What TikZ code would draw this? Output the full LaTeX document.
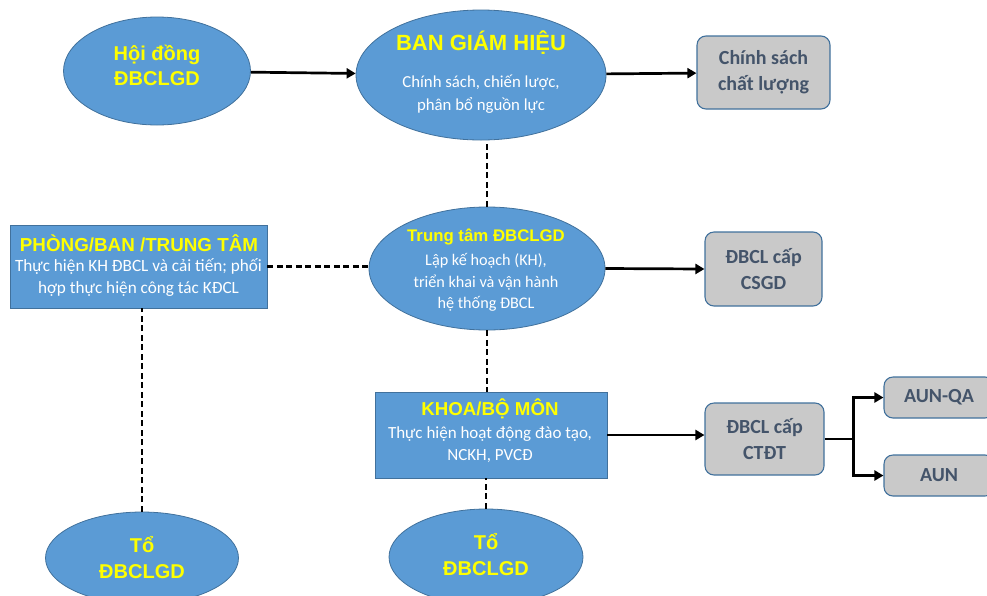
\documentclass[tikz,border=0pt]{standalone}
\usepackage{fontspec}
\setmainfont{Carlito}
\newfontfamily\arl{Liberation Sans}
\usetikzlibrary{shapes.geometric,arrows.meta,calc}
\definecolor{bfill}{HTML}{5B9BD5}
\definecolor{bedge}{HTML}{41719C}
\definecolor{gfill}{HTML}{C9C9C9}
\definecolor{gtext}{HTML}{44546A}
\definecolor{yel}{HTML}{FFFF00}
\begin{document}
\begin{tikzpicture}[x=1pt,y=-1pt,
  ell/.style={ellipse, draw=bedge, line width=0.8pt, fill=bfill, inner sep=0pt},
  rbox/.style={rectangle, draw=bedge, line width=0.8pt, fill=bfill, inner sep=0pt},
  gbox/.style={rectangle, rounded corners=9pt, draw=bedge, line width=1.1pt, fill=gfill, inner sep=0pt,
     font=\bfseries\fontsize{20}{26}\selectfont, text=gtext, align=center},
  ytitle/.style={font=\arl\bfseries\fontsize{20}{25.5}\selectfont, text=yel, align=center, inner sep=0pt},
  wtext/.style={font=\fontsize{16.8}{22.5}\selectfont, text=white, align=center, inner sep=0pt},
  arr/.style={line width=2.7pt, -{Triangle[length=9pt,width=10pt]}},
  dsh/.style={line width=2.3pt, dash pattern=on 6pt off 3.5pt}
]
\useasboundingbox (0,0) rectangle (987,595);
\clip (0,0) rectangle (987,595);

% shapes
\node[ell, minimum width=187pt, minimum height=108pt] (hd) at (157,71) {};
\node[ell, minimum width=250pt, minimum height=130pt] (bgh) at (481,75) {};
\node[gbox, minimum width=133pt, minimum height=73pt] (csl) at (763.5,72.5) {Chính sách\\chất lượng};
\node[rbox, minimum width=257pt, minimum height=83pt] (pb) at (138.5,266.5) {};
\node[ell, minimum width=236pt, minimum height=123pt] (tt) at (487,268.5) {};
\node[gbox, minimum width=117pt, minimum height=74pt] (csgd) at (763.5,269) {ĐBCL cấp\\CSGD};
\node[rbox, minimum width=232pt, minimum height=86pt] (kh) at (491,435) {};
\node[gbox, minimum width=119pt, minimum height=72pt] (ctdt) at (764.5,439) {ĐBCL cấp\\CTĐT};
\node[gbox, minimum width=110pt, minimum height=41pt] (aq) at (939,397.5) {AUN-QA};
\node[gbox, minimum width=110pt, minimum height=41pt] (aun) at (939,475.5) {AUN};
\node[ell, minimum width=193pt, minimum height=92pt] (t1) at (142,558) {};
\node[ell, minimum width=194pt, minimum height=96pt] (t2) at (486,557) {};

% texts
\node[ytitle] (hdt) at (157,65.5) {Hội đồng\\ĐBCLGD};
\node[ytitle, font=\arl\bfseries\fontsize{22}{26}\selectfont] (bght) at (481,43) {BAN GIÁM HIỆU};
\node[wtext, font=\fontsize{16.8}{23}\selectfont] (bghb) at (481,94.5) {Chính sách, chiến lược,\\phân bổ nguồn lực};
\node[ytitle, font=\arl\bfseries\fontsize{18.8}{22}\selectfont] (pbt) at (139,243) {PHÒNG/BAN /TRUNG TÂM};
\node[wtext, font=\fontsize{17.2}{21.5}\selectfont] (pbb) at (138.5,277.5) {Thực hiện KH ĐBCL và cải tiến; phối\\hợp thực hiện công tác KĐCL};
\node[ytitle, font=\arl\bfseries\fontsize{16.8}{22}\selectfont] (ttt) at (486,237) {Trung tâm ĐBCLGD};
\node[wtext, font=\fontsize{16.2}{21.5}\selectfont] (ttb) at (486,282.5) {Lập kế hoạch (KH),\\triển khai và vận hành\\hệ thống ĐBCL};
\node[ytitle, font=\arl\bfseries\fontsize{18.7}{22}\selectfont] (kht) at (490,409) {KHOA/BỘ MÔN};
\node[wtext, font=\fontsize{17}{21.5}\selectfont] (khb) at (490,444.5) {Thực hiện hoạt động đào tạo,\\NCKH, PVCĐ};
\node[ytitle, font=\arl\bfseries\fontsize{20}{26}\selectfont] (t1t) at (142,558) {Tổ\\ĐBCLGD};
\node[ytitle, font=\arl\bfseries\fontsize{20}{26}\selectfont] (t2t) at (486,555) {Tổ\\ĐBCLGD};

% connectors
\draw[arr] (hd) -- (bgh);
\draw[arr] (bgh) -- (csl);
\draw[dsh] (tt.north) -- (tt.north |- bgh.south);
\draw[dsh] (pb.east) -- (pb.east -| tt.west);
\draw[arr] (tt.east) -- (csgd.west);
\draw[dsh] (tt.south) -- (tt.south |- kh.north);
\draw[dsh] (t2.north) -- (t2.north |- kh.south);
\draw[dsh] (t1.north) -- (t1.north |- pb.south);
\draw[arr] (kh.east) -- (kh.east -| ctdt.west);
\coordinate (br) at ($(ctdt.east)+(29,0)$);
\draw[line width=2.7pt] (ctdt.east) -- (br);
\draw[arr] (br) |- (aq.west);
\draw[arr] (br) |- (aun.west);
\end{tikzpicture}
\end{document}
